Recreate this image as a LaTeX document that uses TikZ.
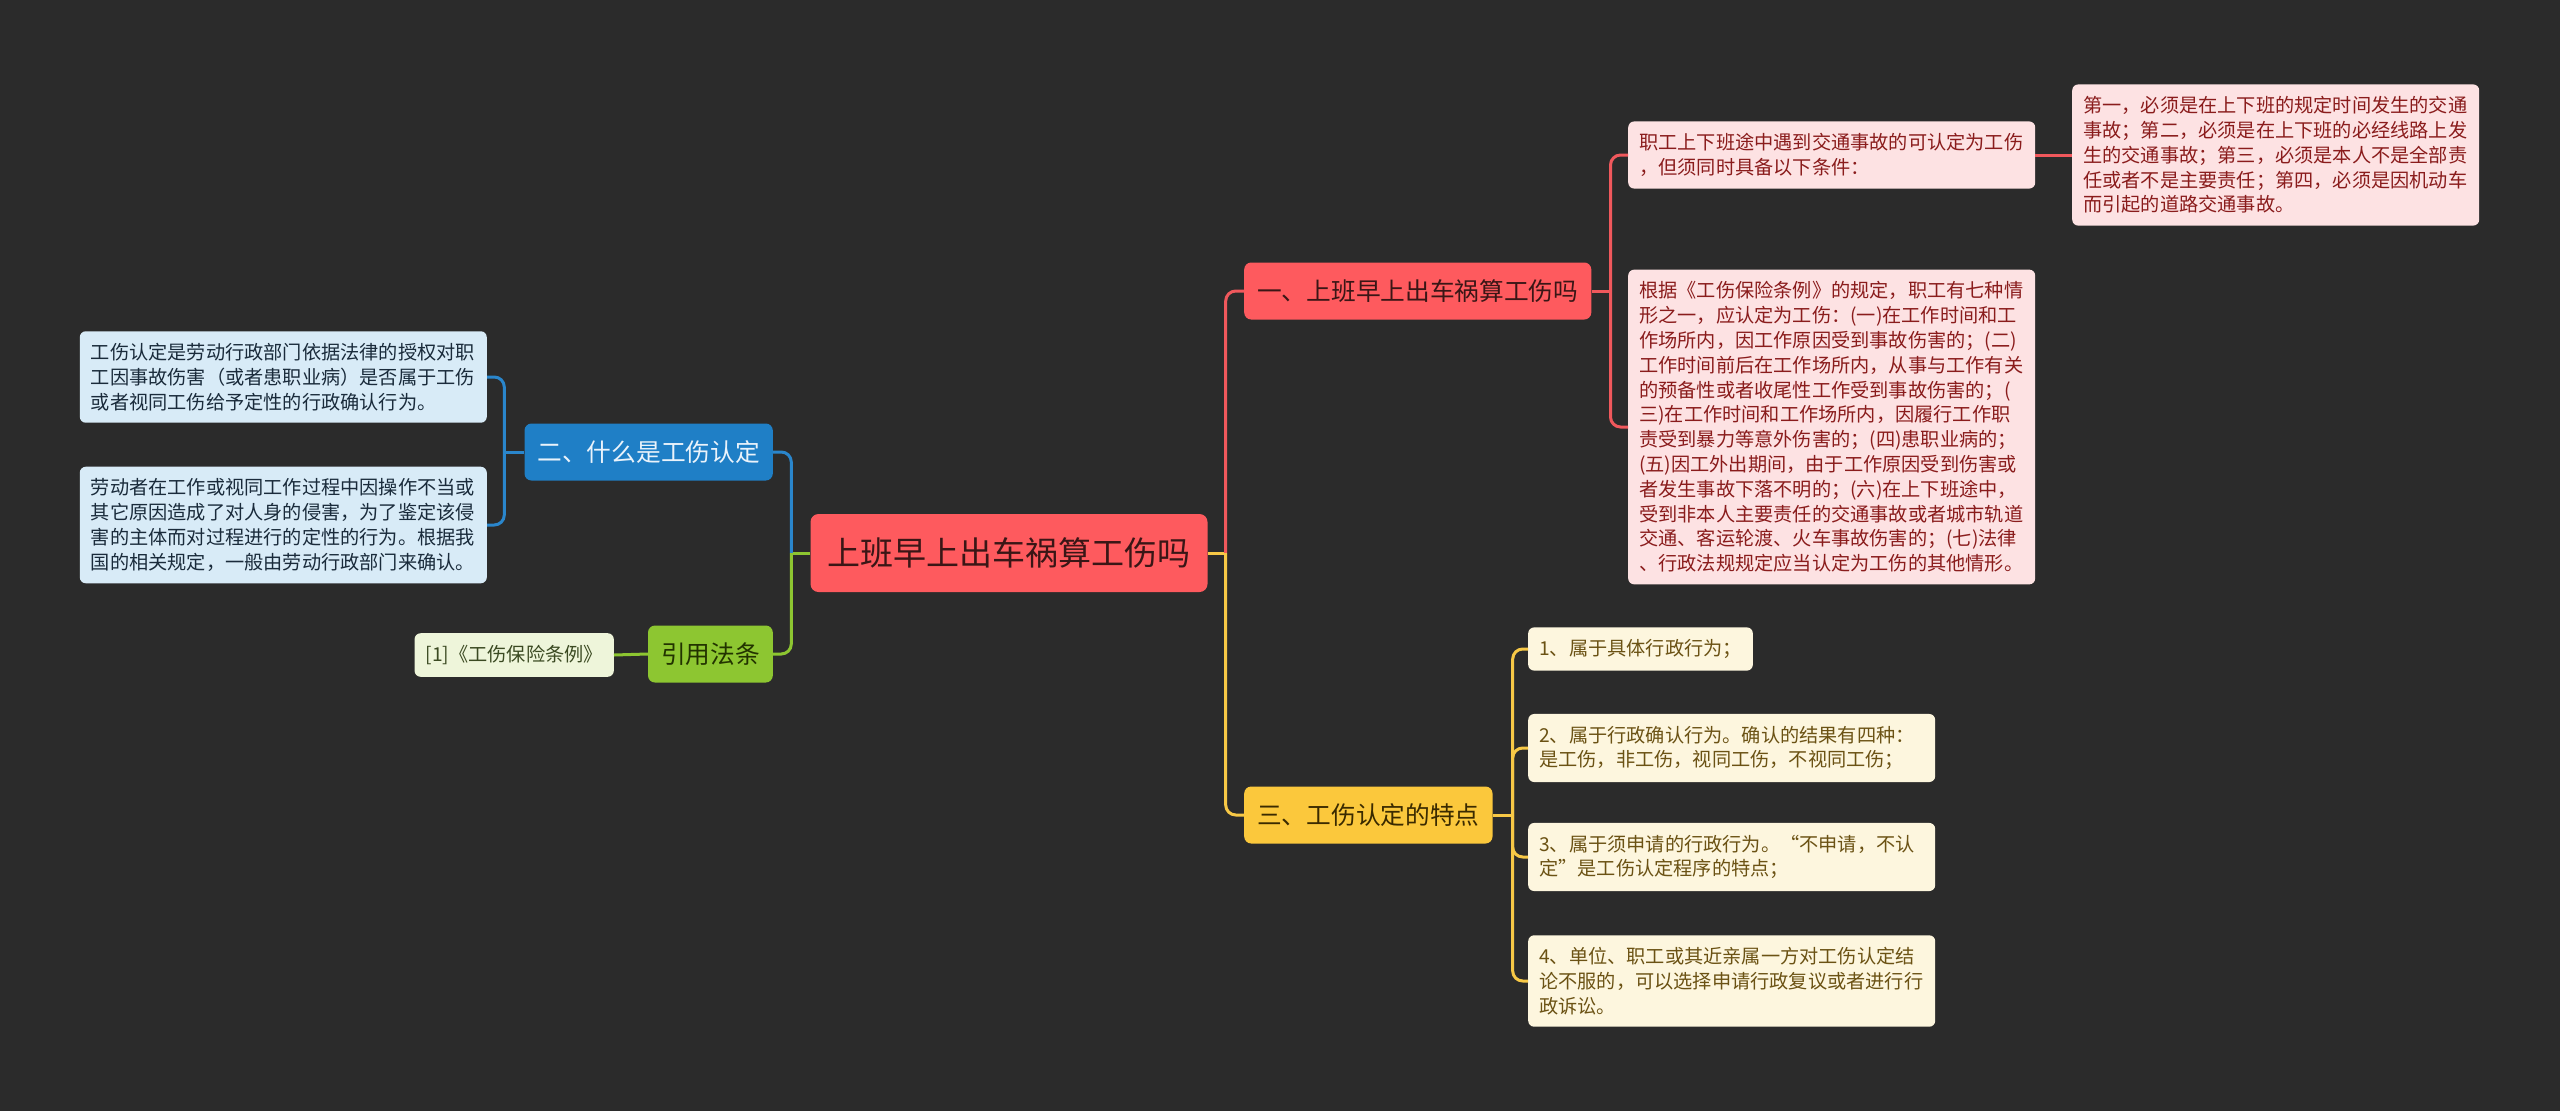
\documentclass[tikz,border=0pt]{standalone}
\usepackage{fontspec}
\setmainfont{Noto Sans CJK SC}
\usepackage{tikz}
\usetikzlibrary{positioning,calc}

\definecolor{bgdark}{HTML}{2B2B2B}
\definecolor{rootred}{HTML}{FE5A5E}
\definecolor{roottext}{HTML}{3A1616}
\definecolor{pinkleaf}{HTML}{FDE2E3}
\definecolor{pinktext}{HTML}{8A1C1C}
\definecolor{yelbox}{HTML}{FBC83C}
\definecolor{yeltext}{HTML}{3A2A00}
\definecolor{yelleaf}{HTML}{FDF6DE}
\definecolor{yelleaftext}{HTML}{6B5214}
\definecolor{blubox}{HTML}{1F7FC6}
\definecolor{blutext}{HTML}{EAF3FB}
\definecolor{bluleaf}{HTML}{D8EBF7}
\definecolor{bluleaftext}{HTML}{1A2B3B}
\definecolor{grnbox}{HTML}{8DC631}
\definecolor{grntext}{HTML}{223300}
\definecolor{grnleaf}{HTML}{EEF5DA}
\definecolor{grnleaftext}{HTML}{3B4A22}
\definecolor{linered}{HTML}{F0585C}
\definecolor{lineyel}{HTML}{F7C846}
\definecolor{lineblu}{HTML}{2A86CC}
\definecolor{linegrn}{HTML}{8DC631}

\tikzset{
  rootbox/.style={fill=rootred, text=roottext, rounded corners=8pt,
    font=\fontsize{33}{40}\selectfont, inner xsep=17pt, minimum height=78pt},
  topicbox/.style={rounded corners=7pt, font=\fontsize{24.7}{30}\selectfont,
    inner xsep=13pt, minimum height=57pt},
  leafbox/.style={rounded corners=6pt, font=\fontsize{19.2}{24.8}\selectfont,
    align=left, inner xsep=11pt, inner ysep=12pt},
  widebox/.style={text width=385pt},
  redline/.style={draw=linered, line width=3pt, rounded corners=10pt},
  yelline/.style={draw=lineyel, line width=3pt, rounded corners=10pt},
  bluline/.style={draw=lineblu, line width=3pt, rounded corners=10pt},
  grnline/.style={draw=linegrn, line width=3pt, rounded corners=10pt}
}

\begin{document}
\begin{tikzpicture}[x=1pt, y=-1pt]
  \fill[bgdark] (0,0) rectangle (2560,1111);
  \useasboundingbox (0,0) rectangle (2560,1111);

  % root and main topics
  \node[rootbox] (root) at (1009,553) {上班早上出车祸算工伤吗};
  \node[topicbox, fill=rootred, text=roottext, anchor=west] (t1) at (1244,291) {一、上班早上出车祸算工伤吗};
  \node[topicbox, fill=yelbox, text=yeltext, anchor=west] (t3) at (1244,815) {三、工伤认定的特点};
  \node[topicbox, fill=blubox, text=blutext, anchor=east] (t2) at (773,452) {二、什么是工伤认定};
  \node[topicbox, fill=grnbox, text=grntext, anchor=east] (cite) at (773,654) {引用法条};

  % leaves of topic one
  \node[leafbox, widebox, fill=pinkleaf, text=pinktext, anchor=west] (traffic) at (1628,155)
    {职工上下班途中遇到交通事故的可认定为工伤\\，但须同时具备以下条件：};
  \node[leafbox, widebox, fill=pinkleaf, text=pinktext, anchor=west] (cond) at (2072,155)
    {第一，必须是在上下班的规定时间发生的交通\\事故；第二，必须是在上下班的必经线路上发\\生的交通事故；第三，必须是本人不是全部责\\任或者不是主要责任；第四，必须是因机动车\\而引起的道路交通事故。};
  \node[leafbox, widebox, fill=pinkleaf, text=pinktext, anchor=west] (seven) at (1628,427)
    {根据《工伤保险条例》的规定，职工有七种情\\形之一，应认定为工伤：(一)在工作时间和工\\作场所内，因工作原因受到事故伤害的；(二)\\工作时间前后在工作场所内，从事与工作有关\\的预备性或者收尾性工作受到事故伤害的；(\\三)在工作时间和工作场所内，因履行工作职\\责受到暴力等意外伤害的；(四)患职业病的；\\(五)因工外出期间，由于工作原因受到伤害或\\者发生事故下落不明的；(六)在上下班途中，\\受到非本人主要责任的交通事故或者城市轨道\\交通、客运轮渡、火车事故伤害的；(七)法律\\、行政法规规定应当认定为工伤的其他情形。};

  % leaves of topic three
  \node[leafbox, fill=yelleaf, text=yelleaftext, anchor=west] (feat1) at (1528,649)
    {1、属于具体行政行为；};
  \node[leafbox, widebox, fill=yelleaf, text=yelleaftext, anchor=west] (feat2) at (1528,748)
    {2、属于行政确认行为。确认的结果有四种：\\是工伤，非工伤，视同工伤，不视同工伤；};
  \node[leafbox, widebox, fill=yelleaf, text=yelleaftext, anchor=west] (feat3) at (1528,857)
    {3、属于须申请的行政行为。“不申请，不认\\定”是工伤认定程序的特点；};
  \node[leafbox, widebox, fill=yelleaf, text=yelleaftext, anchor=west] (feat4) at (1528,981)
    {4、单位、职工或其近亲属一方对工伤认定结\\论不服的，可以选择申请行政复议或者进行行\\政诉讼。};

  % leaves of topic two
  \node[leafbox, widebox, fill=bluleaf, text=bluleaftext, anchor=east] (defa) at (487,377)
    {工伤认定是劳动行政部门依据法律的授权对职\\工因事故伤害（或者患职业病）是否属于工伤\\或者视同工伤给予定性的行政确认行为。};
  \node[leafbox, widebox, fill=bluleaf, text=bluleaftext, anchor=east] (defb) at (487,525)
    {劳动者在工作或视同工作过程中因操作不当或\\其它原因造成了对人身的侵害，为了鉴定该侵\\害的主体而对过程进行的定性的行为。根据我\\国的相关规定，一般由劳动行政部门来确认。};

  % cited law
  \node[leafbox, fill=grnleaf, text=grnleaftext, anchor=east] (law) at (614,655)
    {[1]《工伤保险条例》};

  % connectors
  \coordinate (rj) at ($(root.east)+(18,0)$);
  \coordinate (lj) at ($(root.west)+(-19,0)$);
  \coordinate (j1) at ($(t1.east)+(19,0)$);
  \coordinate (j3) at ($(t3.east)+(20,0)$);
  \coordinate (j2) at ($(t2.west)+(-20,0)$);

  \draw[yelline] (root.east) -- (rj);
  \draw[redline] (rj) |- (t1.west);
  \draw[yelline] (rj) |- (t3.west);
  \draw[grnline] (root.west) -- (lj);
  \draw[bluline] (lj) |- (t2.east);
  \draw[grnline] (lj) |- (cite.east);

  \draw[redline] (t1.east) -- (j1);
  \draw[redline] (j1) |- (traffic.west);
  \draw[redline] (j1) |- (seven.west);
  \draw[redline] (traffic.east) -- (cond.west);

  \draw[yelline] (t3.east) -- (j3);
  \foreach \n in {feat1,feat2,feat3,feat4}
    \draw[yelline] (j3) |- (\n.west);

  \draw[bluline] (t2.west) -- (j2);
  \draw[bluline] (j2) |- (defa.east);
  \draw[bluline] (j2) |- (defb.east);

  \draw[grnline] (cite.west) -- (law.east);
\end{tikzpicture}
\end{document}
